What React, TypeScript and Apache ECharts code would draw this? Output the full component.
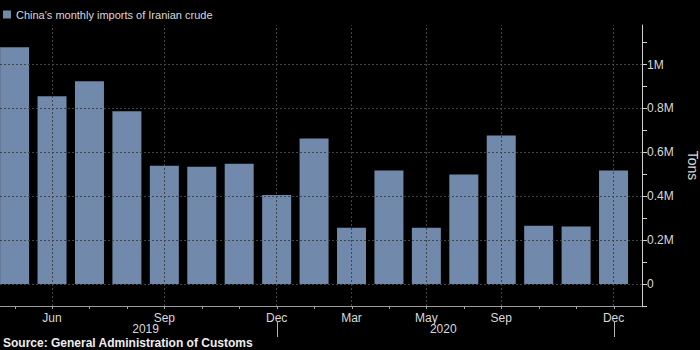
import React, { useEffect, useRef } from "react";
import * as echarts from "echarts";

// Months shown as bars (Jan+Feb 2020 reported together)
const months = [
  "May 2019", "Jun 2019", "Jul 2019", "Aug 2019", "Sep 2019", "Oct 2019", "Nov 2019", "Dec 2019",
  "Jan 2020", "Mar 2020", "Apr 2020", "May 2020", "Jul 2020", "Sep 2020", "Oct 2020", "Nov 2020", "Dec 2020",
];
// Imports in tons
const imports = [
  1079000, 855000, 924000, 787000, 539000, 534000, 548000, 406000,
  663000, 256000, 517000, 257000, 499000, 677000, 265000, 262000, 517000,
];
// Which bars carry a month label, and the label
const xLabelIndices = [1, 4, 7, 9, 11, 13, 16];
const xLabelTexts = ["Jun", "Sep", "Dec", "Mar", "May", "Sep", "Dec"];
// Year labels and year separator ticks
const yearTexts = ["2019", "2020"];
const yearLabelPos = [3.5, 11.45];
const yearSepIndices = [7, 16];
// Right axis labelled ticks
const yTickValues = [0, 200000, 400000, 600000, 800000, 1000000];
const yTickTexts = ["0", "0.2M", "0.4M", "0.6M", "0.8M", "1M"];

const SERIES_NAME = "China's monthly imports of Iranian crude";
const FONT = "Liberation Sans, Arial, sans-serif";
const TEXT = "#d9d9d9";
const Y_MIN = -100000;

export default function App() {
  const ref = useRef<HTMLDivElement>(null);
  useEffect(() => {
    if (!ref.current) return;
    const chart = echarts.init(ref.current, undefined, { renderer: "svg" });
    const xMin = -0.39;
    const xMax = 16.76;
    chart.setOption({
      animation: false,
      backgroundColor: "#000000",
      textStyle: { fontFamily: FONT },
      title: {
        text: "Source: General Administration of Customs",
        left: 3,
        top: 337,
        padding: 0,
        textStyle: { color: "#eeeeee", fontSize: 12, fontWeight: "bold", fontFamily: FONT },
      },
      legend: {
        left: 3,
        top: 9,
        padding: 0,
        itemWidth: 8,
        itemHeight: 8,
        icon: "rect",
        textStyle: { color: TEXT, fontSize: 11, fontFamily: FONT },
        data: [SERIES_NAME],
      },
      grid: { left: 0, right: 58, top: 25, bottom: 44, containLabel: false, outerBoundsMode: "none" },
      xAxis: [
        {
          type: "value",
          min: xMin,
          max: xMax,
          position: "bottom",
          axisLine: { show: true, onZero: false, lineStyle: { color: "#9a9a9a", width: 1 } },
          axisTick: { show: false },
          axisLabel: {
            show: true,
            customValues: xLabelIndices,
            margin: 6,
            color: TEXT,
            fontSize: 12,
            fontFamily: FONT,
            formatter: (v: number) => {
              const k = xLabelIndices.indexOf(Math.round(v));
              return k >= 0 ? xLabelTexts[k] : "";
            },
          },
          splitLine: { show: false },
        },
        {
          type: "value",
          min: xMin,
          max: xMax,
          position: "bottom",
          offset: 16,
          axisLine: { show: false, onZero: false },
          axisTick: { show: false },
          axisLabel: {
            show: true,
            customValues: yearLabelPos,
            margin: 1,
            color: TEXT,
            fontSize: 12,
            fontFamily: FONT,
            formatter: (v: number) => {
              const k = yearLabelPos.findIndex((p) => Math.abs(p - v) < 0.01);
              return k >= 0 ? yearTexts[k] : "";
            },
          },
          splitLine: { show: false },
        },
      ],
      yAxis: {
        type: "value",
        position: "right",
        min: Y_MIN,
        max: 1180000,
        interval: 100000,
        name: "Tons",
        nameLocation: "middle",
        nameRotate: -90,
        nameGap: 44,
        nameTextStyle: { color: TEXT, fontSize: 14, fontFamily: FONT },
        axisLine: { show: true, onZero: false, lineStyle: { color: "#d0d0d0", width: 1 } },
        axisTick: { show: true, length: 5, lineStyle: { color: "#d0d0d0" } },
        axisLabel: {
          margin: 5,
          color: TEXT,
          fontSize: 12,
          fontFamily: FONT,
          showMaxLabel: false,
          formatter: (v: number) => {
            const k = yTickValues.findIndex((t) => Math.abs(t - v) < 1);
            return k >= 0 ? yTickTexts[k] : "";
          },
        },
        splitLine: { show: false },
      },
      series: [
        {
          name: SERIES_NAME,
          type: "bar",
          xAxisIndex: 0,
          barWidth: 29,
          itemStyle: { color: "#7189aa" },
          data: imports.map((v, i) => [i, v]),
          markLine: {
            silent: true,
            symbol: "none",
            label: { show: false },
            lineStyle: { color: "#444444", type: [2, 2], width: 1 },
            data: [
              ...yTickValues.map((v) => ({ yAxis: v })),
              ...xLabelIndices.map((i) => ({ xAxis: i })),
            ],
          },
          z: 3,
        },
      ],
    });

    // Axis ticks placed through the axis scale
    const baseY = chart.convertToPixel({ yAxisIndex: 0 }, Y_MIN) as number;
    const tickEls: any[] = [];
    months.forEach((_, i) => {
      const x = Math.round(chart.convertToPixel({ xAxisIndex: 0 }, i) as number) + 0.5;
      tickEls.push({
        type: "line",
        z: 10,
        shape: { x1: x, y1: baseY, x2: x, y2: baseY + 3 },
        style: { stroke: "#a8a8a8", lineWidth: 1 },
      });
    });
    yearSepIndices.forEach((i) => {
      const x = Math.round(chart.convertToPixel({ xAxisIndex: 0 }, i) as number) + 0.5;
      tickEls.push({
        type: "line",
        z: 10,
        shape: { x1: x, y1: baseY + 16, x2: x, y2: baseY + 31 },
        style: { stroke: "#b4b4b4", lineWidth: 1 },
      });
    });
    chart.setOption({ graphic: tickEls });

    return () => chart.dispose();
  }, []);
  return (
    <div
      ref={ref}
      style={{ position: "absolute", left: 0, top: 0, width: 700, height: 350, background: "#000" }}
    />
  );
}
